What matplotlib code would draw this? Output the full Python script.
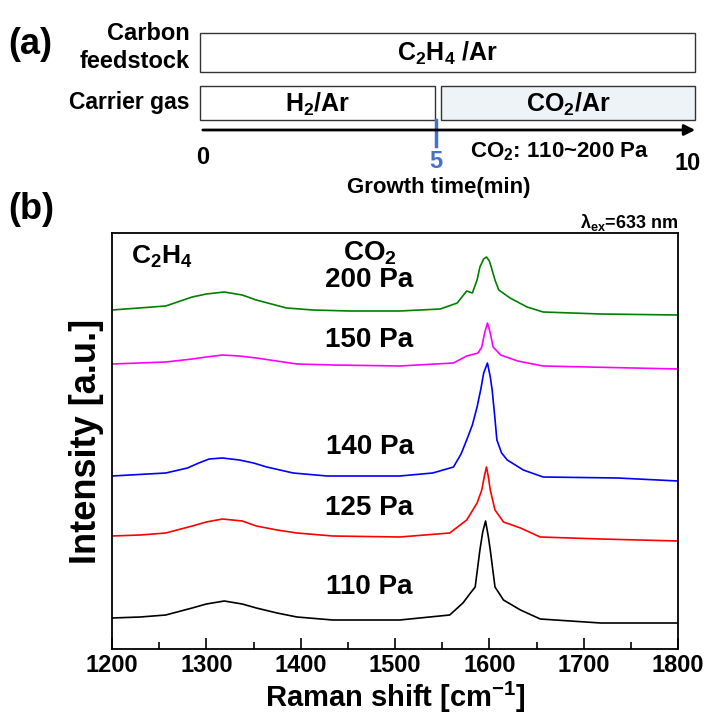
import numpy as np
import matplotlib
matplotlib.use("Agg")
from matplotlib import pyplot as plt
from matplotlib.patches import Rectangle
from matplotlib.ticker import MultipleLocator

plt.rcParams['font.family'] = ['Liberation Sans', 'DejaVu Sans']
plt.rcParams['font.weight'] = 'bold'
plt.rcParams['axes.labelweight'] = 'bold'
plt.rcParams['axes.titleweight'] = 'bold'
plt.rcParams['mathtext.fontset'] = 'custom'
plt.rcParams['mathtext.rm'] = 'Liberation Sans:bold'
plt.rcParams['mathtext.it'] = 'Liberation Sans:bold'
plt.rcParams['mathtext.default'] = 'rm'

# 成長プロセス（分）
stage_names = ['C$_2$H$_4$ /Ar', 'H$_2$/Ar', 'CO$_2$/Ar']
stage_start = [0, 0, 5.1]
stage_end = [10.49, 4.98, 10.49]
stage_row = [0, 1, 1]
switch_time = 5

# ラマンスペクトル（シフト, 強度 任意単位）
shift_110 = [1200, 1230, 1257, 1285, 1300, 1319, 1338, 1353, 1375, 1396, 1434, 1505, 1558, 1572,
             1580, 1585, 1590, 1593, 1596, 1599, 1601, 1606, 1615, 1633, 1654, 1718, 1800]
int_110 = [31, 32, 34, 41, 45, 48, 45, 41, 36, 32, 29, 29, 34, 46,
           56, 62, 99, 117, 128, 112, 99, 62, 49, 39, 30, 26, 26]

shift_125 = [1200, 1230, 1257, 1285, 1300, 1317, 1338, 1353, 1375, 1396, 1434, 1505, 1558, 1576,
             1587, 1592, 1595, 1597, 1599, 1601, 1606, 1615, 1633, 1654, 1718, 1800]
int_125 = [113, 114, 116, 123, 127, 130, 128, 123, 119, 116, 113, 112, 116, 129,
           146, 159, 174, 182, 172, 159, 139, 127, 121, 112, 110, 108]

shift_140 = [1200, 1257, 1280, 1292, 1303, 1317, 1335, 1350, 1364, 1392, 1428, 1505, 1540, 1562,
             1570, 1576, 1582, 1587, 1591, 1594, 1598, 1601, 1603, 1606, 1608, 1613, 1619, 1636,
             1657, 1736, 1800]
int_140 = [173, 176, 181, 186, 190, 191, 189, 186, 182, 176, 173, 173, 176, 182,
           195, 209, 224, 242, 260, 276, 286, 272, 259, 230, 209, 196, 189, 179,
           172, 171, 168]

shift_150 = [1200, 1257, 1285, 1300, 1317, 1335, 1353, 1396, 1434, 1505, 1562, 1576, 1588, 1592,
             1595, 1598, 1601, 1604, 1612, 1630, 1657, 1800]
int_150 = [285, 287, 290, 292, 294, 293, 291, 285, 284, 283, 286, 293, 296, 302,
           316, 326, 316, 302, 294, 288, 283, 280]

shift_200 = [1200, 1257, 1285, 1300, 1319, 1338, 1353, 1385, 1413, 1452, 1505, 1548, 1566, 1576,
             1582, 1587, 1590, 1594, 1597, 1600, 1602, 1606, 1610, 1622, 1640, 1657, 1718, 1800]
int_200 = [339, 343, 352, 355, 357, 354, 349, 341, 339, 338, 338, 340, 346, 358,
           356, 369, 382, 390, 392, 388, 382, 369, 359, 351, 342, 337, 335, 334]

spectra = [(shift_110, int_110, 'black', '110 Pa'),
           (shift_125, int_125, 'red', '125 Pa'),
           (shift_140, int_140, 'blue', '140 Pa'),
           (shift_150, int_150, 'magenta', '150 Pa'),
           (shift_200, int_200, 'green', '200 Pa')]
label_y = [62, 141, 202, 309, 369]

fig = plt.figure(figsize=(7.04, 7.16), dpi=100)

# (a) 成長条件の模式図
ax_a = fig.add_axes([0, 1 - 200 / 716, 1, 200 / 716])
px = 47.2
ax_a.set_xlim(-200 / px, 504 / px)
ax_a.set_ylim(200, 0)
ax_a.axis('off')

row_top = [33, 86]
row_h = [39, 34]
for name, t0, t1, r in zip(stage_names, stage_start, stage_end, stage_row):
    fc = '#eef3f8' if name.startswith('CO') else 'white'
    ax_a.add_patch(Rectangle((t0, row_top[r]), t1 - t0, row_h[r], fc=fc, ec='#333333', lw=1.0))
    ax_a.text((t0 + t1) / 2, row_top[r] + row_h[r] / 2 + 1, name, ha='center', va='center',
              fontsize=18)

ax_a.annotate('', xy=(10.55, 130), xytext=(0, 130),
              arrowprops=dict(arrowstyle='-|>', color='black', lw=2, mutation_scale=16))
ax_a.plot([switch_time, switch_time], [120, 146], color='#4472c4', lw=2.5)
ax_a.text(0.05, 157, '0', ha='center', va='center', fontsize=17)
ax_a.text(switch_time, 161, '5', ha='center', va='center', fontsize=17, color='#4472c4')
ax_a.text(10.34, 163, '10', ha='center', va='center', fontsize=17)
ax_a.text(7.62, 152, 'CO$_2$: 110~200 Pa', ha='center', va='center', fontsize=16)
ax_a.text(5.05, 188, 'Growth time(min)', ha='center', va='center', fontsize=16)
ax_a.text(-192 / px, 44, '(a)', ha='left', va='center', fontsize=26)
ax_a.text(-10 / px, 34, 'Carbon', ha='right', va='center', fontsize=17)
ax_a.text(-10 / px, 62, 'feedstock', ha='right', va='center', fontsize=17)
ax_a.text(-10 / px, 103, 'Carrier gas', ha='right', va='center', fontsize=16.5)

# (b) ラマンスペクトル
ax = fig.add_axes([112 / 704, 67 / 716, 566 / 704, 416 / 716])
for x, y, c, lab in spectra:
    ax.plot(x, y, color=c, lw=1.2)
for (x, y, c, lab), ly in zip(spectra, label_y):
    ax.text(1473, ly, lab, ha='center', va='center', fontsize=20)
ax.text(1473, 396, 'CO$_2$', ha='center', va='center', fontsize=20)
ax.text(1253, 392, 'C$_2$H$_4$', ha='center', va='center', fontsize=19)

ax.set_xlim(1200, 1800)
ax.set_ylim(0, 416)
ax.xaxis.set_major_locator(MultipleLocator(100))
ax.xaxis.set_minor_locator(MultipleLocator(50))
ax.tick_params(axis='x', which='both', direction='in', top=False, labelsize=17, width=1.2)
ax.tick_params(axis='x', which='major', length=8)
ax.tick_params(axis='x', which='minor', length=5)
ax.set_yticks([])
for lab in ax.get_xticklabels():
    lab.set_fontweight('bold')
for s in ax.spines.values():
    s.set_linewidth(1.3)
ax.set_xlabel('Raman shift [cm$^{-1}$]', fontsize=21, labelpad=2)
ax.set_ylabel('Intensity [a.u.]', fontsize=26, labelpad=6)
ax.set_title('$\\lambda_{ex}$=633 nm', loc='right', fontsize=13, pad=2)
fig.text(8 / 704, 1 - 210 / 716, '(b)', ha='left', va='center', fontsize=26)

fig.savefig('out.png', dpi=100)
